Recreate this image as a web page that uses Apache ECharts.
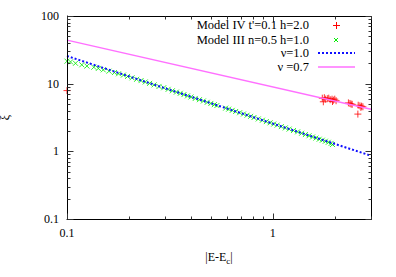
<!DOCTYPE html>
<html><head><meta charset="utf-8">
<script src="https://cdn.jsdelivr.net/npm/echarts@6/dist/echarts.min.js"></script>
<style>html,body{margin:0;padding:0;background:#fff}#c{width:396px;height:277px}</style>
</head><body><div id="c"></div>
<script>
// ---- data ----
const xTickLabels = [0.1, 1];
const yTickLabels = [0.1, 1, 10, 100];
const xMinorTicks = [0.2,0.3,0.4,0.5,0.6,0.7,0.8,0.9,2,3];
const yMinorTicks = [0.2,0.3,0.4,0.5,0.6,0.7,0.8,0.9,2,3,4,5,6,7,8,9,20,30,40,50,60,70,80,90];
const seriesNames = ["Model IV t'=0.1 h=2.0", "Model III n=0.5 h=1.0", "\u03bd=1.0", "\u03bd =0.7"];
const model4X = [0.1,1.74,1.76,1.78,1.80,1.84,1.87,1.90,1.94,1.95,1.97,2.0,2.03,2.33,2.37,2.40,2.43,2.59,2.60,2.65,2.68,2.70,2.74];
const model4Y = [7.9,6.1,5.4,6.2,5.9,6.0,6.1,5.8,5.9,5.45,5.7,5.9,5.6,5.2,5.1,5.0,4.95,3.55,4.8,4.7,4.45,4.65,4.55];
const model3X = [0.100,0.104,0.110,0.118,0.125,0.135,0.142,0.150,0.160,0.170,0.178,0.188,0.197,0.207,0.218,0.229,0.240,0.252,0.265,0.280,0.295,0.31,0.325,0.34,0.355,0.37,0.385,0.40,0.42,0.44,0.46,0.48,0.50,0.52,0.535,0.59,0.61,0.635,0.66,0.69,0.72,0.75,0.78,0.81,0.85,0.89,0.93,0.97,1.01,1.05,1.10,1.15,1.20,1.26,1.32,1.38,1.44,1.50,1.56,1.62,1.68,1.74,1.80,1.86,1.92,1.95];
const model3Y = [21.5,21.0,20.0,19.0,18.2,17.5,16.8,16.0,15.3,14.6,14.0,13.4,12.8,12.2,11.6,11.1,10.6,10.1,9.6,9.1,8.7,8.25,7.85,7.5,7.2,6.9,6.6,6.35,6.05,5.8,5.55,5.3,5.1,4.9,4.75,4.35,4.2,4.03,3.88,3.72,3.56,3.42,3.29,3.16,3.01,2.88,2.75,2.64,2.53,2.44,2.32,2.22,2.13,2.03,1.94,1.85,1.77,1.70,1.63,1.57,1.51,1.46,1.41,1.36,1.31,1.26];
const nu1X = [0.1, 3.0];
const nu1Y = [25.6, 0.86];
const nu07X = [0.1, 3.0];
const nu07Y = [44.0, 4.2];
// ---- chart ----
const X_MIN = 0.1, X_MAX = 3, Y_MIN = 0.1, Y_MAX = 100;
const zip = (a, b) => a.map((v, i) => [v, b[i]]);
const FONT = 'Liberation Serif';
const approxIn = (v, arr) => arr.some(t => Math.abs(v - t) < 1e-9 * Math.max(1, t));
const chart = echarts.init(document.getElementById('c'), null, {renderer: 'svg'});
chart.setOption({
  animation: false,
  grid: {left: 67, right: 25, top: 16, bottom: 58, containLabel: false, outerBoundsMode: 'none'},
  xAxis: {
    type: 'log', min: X_MIN, max: X_MAX,
    axisLine: {show: true, lineStyle: {color: '#000', width: 1}},
    axisTick: {show: false}, splitLine: {show: false},
    axisLabel: {fontFamily: FONT, fontSize: 12, color: '#000',
      formatter: v => approxIn(v, xTickLabels) ? String(v) : ''},
    name: '|E-E{s|c}|', nameLocation: 'middle', nameGap: 29,
    nameTextStyle: {fontFamily: FONT, fontSize: 12, color: '#000',
      rich: {s: {fontFamily: FONT, fontSize: 9, color: '#000', verticalAlign: 'bottom', padding: [8, 0, 0, 0]}}}
  },
  yAxis: {
    type: 'log', min: Y_MIN, max: Y_MAX,
    axisLine: {show: true, lineStyle: {color: '#000', width: 1}},
    axisTick: {show: false}, splitLine: {show: false},
    axisLabel: {fontFamily: FONT, fontSize: 12, color: '#000'},
    name: '\u03be', nameLocation: 'middle', nameGap: 56, nameRotate: 90,
    nameTextStyle: {fontFamily: FONT, fontSize: 12, color: '#000'}
  },
  series: [
    {name: seriesNames[0], type: 'scatter', data: zip(model4X, model4Y), symbol: 'path://M0,5L10,5M5,0L5,10',
      symbolSize: 7, itemStyle: {color: 'rgba(0,0,0,0)', borderColor: '#ff0000', borderWidth: 1}},
    {name: seriesNames[1], type: 'scatter', data: zip(model3X, model3Y), symbol: 'path://M0,0L10,10M10,0L0,10',
      symbolSize: 5, itemStyle: {color: 'rgba(0,0,0,0)', borderColor: '#00ee00', borderWidth: 1}},
    {name: seriesNames[2], type: 'line', data: zip(nu1X, nu1Y), symbol: 'none',
      lineStyle: {color: '#1010ff', width: 2, type: [2, 2]}},
    {name: seriesNames[3], type: 'line', data: zip(nu07X, nu07Y), symbol: 'none',
      lineStyle: {color: '#ff70ff', width: 1.5}}
  ]
});
// frame and ticks placed through the chart's own scales
const P = (x, y) => chart.convertToPixel({gridIndex: 0}, [x, y]);
const bl = P(X_MIN, Y_MIN), tr = P(X_MAX, Y_MAX);
const L = Math.round(bl[0]) + 0.5, B = Math.round(bl[1]) + 0.5, R = Math.round(tr[0]) + 0.5, T = Math.round(tr[1]) + 0.5;
const tickStyle = () => ({stroke: '#333', lineWidth: 1});
const g = [];
g.push({type: 'rect', z: 10, shape: {x: L, y: T, width: R - L, height: B - T}, style: {fill: 'none', stroke: '#000', lineWidth: 1}});
const addXTick = (v, len) => {
  const x = Math.round(P(v, Y_MIN)[0]) + 0.5;
  g.push({type: 'line', z: 10, shape: {x1: x, y1: B, x2: x, y2: B - len}, style: tickStyle()});
  g.push({type: 'line', z: 10, shape: {x1: x, y1: T, x2: x, y2: T + len}, style: tickStyle()});
};
const addYTick = (v, len) => {
  const y = Math.round(P(X_MIN, v)[1]) + 0.5;
  g.push({type: 'line', z: 10, shape: {x1: L, y1: y, x2: L + len, y2: y}, style: tickStyle()});
  g.push({type: 'line', z: 10, shape: {x1: R, y1: y, x2: R - len, y2: y}, style: tickStyle()});
};
xTickLabels.forEach(v => addXTick(v, 6));
xMinorTicks.forEach(v => addXTick(v, 3));
yTickLabels.forEach(v => addYTick(v, 6));
yMinorTicks.forEach(v => addYTick(v, 3));
// legend (gnuplot style: text right-aligned, sample on the right)
const LF = '12.5px "Liberation Serif"';
[18, 33, 46, 60].forEach((top, i) => {
  g.push({type: 'text', z: 11, x: 309, y: top, style: {text: seriesNames[i], font: LF, fill: '#000', textAlign: 'right', textVerticalAlign: 'top'}});
});
g.push({type: 'line', z: 11, shape: {x1: 333, y1: 25.5, x2: 340, y2: 25.5}, style: {stroke: '#ff0000', lineWidth: 1}});
g.push({type: 'line', z: 11, shape: {x1: 336.5, y1: 22, x2: 336.5, y2: 29}, style: {stroke: '#ff0000', lineWidth: 1}});
g.push({type: 'line', z: 11, shape: {x1: 334, y1: 38, x2: 338, y2: 42}, style: {stroke: '#00ee00', lineWidth: 1}});
g.push({type: 'line', z: 11, shape: {x1: 338, y1: 38, x2: 334, y2: 42}, style: {stroke: '#00ee00', lineWidth: 1}});
g.push({type: 'line', z: 11, shape: {x1: 318, y1: 53, x2: 355, y2: 53}, style: {stroke: '#1010ff', lineWidth: 2, lineDash: [2, 2]}});
g.push({type: 'line', z: 11, shape: {x1: 318, y1: 67, x2: 355, y2: 67}, style: {stroke: '#ff70ff', lineWidth: 1.5}});
chart.setOption({graphic: g});
</script></body></html>
